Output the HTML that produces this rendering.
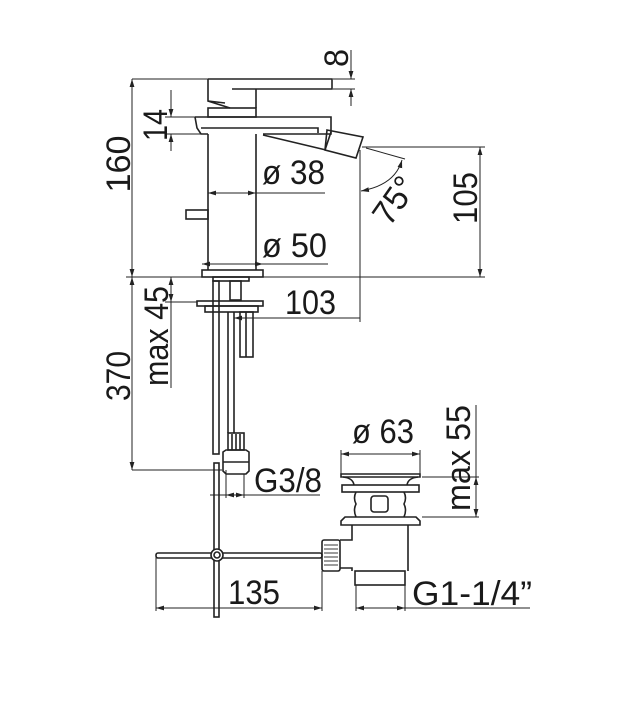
<!DOCTYPE html>
<html><head><meta charset="utf-8"><style>
html,body{margin:0;padding:0;background:#fff;}
svg{display:block;}
text{font-family:"Liberation Sans",sans-serif;fill:#1a1a1a;}
</style></head><body>
<svg width="622" height="707" viewBox="0 0 622 707" xmlns="http://www.w3.org/2000/svg">
<defs>
<marker id="a" viewBox="0 0 10 6" refX="10" refY="3" markerWidth="8" markerHeight="5" orient="auto-start-reverse"><path d="M0,0 L10,3 L0,6 z" fill="#222"/></marker>
</defs>
<g fill="none" stroke="#222" stroke-width="1.6">
<path d="M208,79 H332 V89 H232 M208,79 V101 L230,108"/>
<path d="M208,101 L225,103"/>
<line x1="256" y1="89" x2="256" y2="108"/>
<rect x="208" y="108" width="48" height="9"/>
<path d="M195,117 H331 V134 H263 M195,117 L197,128 L201,134 H208"/>
<path d="M201,128 H318 V133"/>
<path d="M263,135 L326,150"/>
<path d="M327,130 L363,137 L356,158 L325,150 Z"/>
<line x1="331" y1="132" x2="325" y2="150"/>
<line x1="208" y1="134" x2="208" y2="270"/>
<line x1="256" y1="134" x2="256" y2="270"/>
<rect x="186" y="210" width="22" height="9"/>
<rect x="202" y="270" width="61" height="7"/>
<rect x="213" y="277" width="36" height="4"/>
<rect x="213" y="281" width="6" height="173"/>
<rect x="230" y="281" width="11" height="19"/>
<line x1="228" y1="312" x2="228" y2="433"/>
<line x1="234" y1="312" x2="234" y2="433"/>
<rect x="197" y="301" width="66" height="5"/>
<rect x="205" y="306" width="53" height="6"/>
<rect x="240" y="312" width="13" height="45"/>
<line x1="246" y1="312" x2="246" y2="357"/>
<rect x="228" y="433" width="16" height="17"/>
<line x1="232" y1="434" x2="232" y2="450"/><line x1="236" y1="434" x2="236" y2="450"/><line x1="240" y1="434" x2="240" y2="450"/>
<path d="M223,452 L226,450 H246 L249,452 V471 L246,474 H226 L223,471 Z"/>
<line x1="223" y1="462" x2="249" y2="462"/>
<rect x="214" y="463" width="5" height="154"/>
<rect x="156" y="553" width="166" height="5" rx="2"/>
<circle cx="217" cy="555" r="6" fill="#fff"/>
<circle cx="217" cy="555" r="3"/>
<rect x="322" y="540" width="18" height="31" rx="2"/>
<g stroke-width="0.9"><line x1="324" y1="545" x2="338" y2="545"/><line x1="324" y1="549" x2="338" y2="549"/><line x1="324" y1="553" x2="338" y2="553"/><line x1="324" y1="557" x2="338" y2="557"/><line x1="324" y1="561" x2="338" y2="561"/><line x1="324" y1="565" x2="338" y2="565"/></g>
<path d="M341,474 H420 V477 H341 Z"/>
<path d="M343,477 Q353,478 354,485 M418,477 Q408,478 407,485"/>
<rect x="342" y="485" width="77" height="7"/>
<path d="M356,492 Q353,498 356,504 Q353,510 356,517 M404,492 Q407,498 404,504 Q407,510 404,517"/>
<rect x="371" y="496" width="17" height="16" rx="3"/>
<path d="M345,517 H416 L420,521 V525 H341 V521 Z"/>
<path d="M352,525 V540 H340 M340,568 H352 V571 M408,525 V571"/>
<rect x="355" y="571" width="50" height="14"/>
</g>
<g fill="none" stroke="#222" stroke-width="1">
<line x1="132" y1="79" x2="208" y2="79"/>
<line x1="126" y1="277" x2="485" y2="277"/>
<line x1="132" y1="79" x2="132" y2="277" marker-start="url(#a)" marker-end="url(#a)"/>
<line x1="132" y1="277" x2="132" y2="470" marker-start="url(#a)" marker-end="url(#a)"/>
<line x1="132" y1="470" x2="222" y2="470"/>
<line x1="165" y1="117" x2="195" y2="117"/><line x1="165" y1="134" x2="201" y2="134"/>
<line x1="171" y1="90" x2="171" y2="117" marker-end="url(#a)"/>
<line x1="171" y1="151" x2="171" y2="134" marker-end="url(#a)"/>
<line x1="333" y1="79" x2="355" y2="79"/><line x1="333" y1="89" x2="355" y2="89"/>
<line x1="351" y1="50" x2="351" y2="79" marker-end="url(#a)"/>
<line x1="351" y1="106" x2="351" y2="89" marker-end="url(#a)"/>
<line x1="208" y1="193" x2="256" y2="193" marker-start="url(#a)" marker-end="url(#a)"/>
<line x1="256" y1="193" x2="325" y2="193"/>
<line x1="202" y1="264" x2="263" y2="264" marker-start="url(#a)" marker-end="url(#a)"/>
<line x1="263" y1="264" x2="328" y2="264"/>
<line x1="362" y1="147" x2="485" y2="147"/>
<line x1="480" y1="147" x2="480" y2="277" marker-start="url(#a)" marker-end="url(#a)"/>
<line x1="360" y1="150" x2="360" y2="322"/>
<line x1="366" y1="148" x2="405" y2="159"/>
<path d="M402,160 Q395,185 361,191" marker-start="url(#a)" marker-end="url(#a)"/>
<line x1="165" y1="302" x2="197" y2="302"/>
<line x1="171" y1="277" x2="171" y2="302" marker-start="url(#a)" marker-end="url(#a)"/>
<line x1="171" y1="302" x2="171" y2="388"/>
<line x1="234" y1="318" x2="360" y2="318" marker-start="url(#a)"/>
<line x1="226" y1="470" x2="226" y2="498"/><line x1="244" y1="474" x2="244" y2="498"/>
<line x1="210" y1="495" x2="320" y2="495"/>
<line x1="226" y1="495" x2="244" y2="495" marker-start="url(#a)" marker-end="url(#a)"/>
<line x1="156" y1="557" x2="156" y2="611"/><line x1="322" y1="571" x2="322" y2="611"/>
<line x1="156" y1="608" x2="322" y2="608" marker-start="url(#a)" marker-end="url(#a)"/>
<line x1="341" y1="450" x2="341" y2="474"/><line x1="420" y1="450" x2="420" y2="474"/>
<line x1="341" y1="454" x2="420" y2="454" marker-start="url(#a)" marker-end="url(#a)"/>
<line x1="422" y1="477" x2="479" y2="477"/><line x1="422" y1="517" x2="479" y2="517"/>
<line x1="476" y1="405" x2="476" y2="477"/>
<line x1="476" y1="477" x2="476" y2="517" marker-start="url(#a)" marker-end="url(#a)"/>
<line x1="356" y1="585" x2="356" y2="611"/><line x1="405" y1="585" x2="405" y2="611"/>
<line x1="356" y1="608" x2="405" y2="608" marker-start="url(#a)" marker-end="url(#a)"/>
<line x1="405" y1="608" x2="530" y2="608"/>
</g>
<g font-size="34">
<text transform="translate(130,164) rotate(-90)" text-anchor="middle" textLength="57" lengthAdjust="spacingAndGlyphs">160</text>
<text transform="translate(167,125) rotate(-90)" text-anchor="middle" textLength="32" lengthAdjust="spacingAndGlyphs">14</text>
<text transform="translate(348,58) rotate(-90)" text-anchor="middle" textLength="18" lengthAdjust="spacingAndGlyphs">8</text>
<text x="262" y="184" textLength="63" lengthAdjust="spacingAndGlyphs">ø 38</text>
<text x="262" y="257" textLength="65" lengthAdjust="spacingAndGlyphs">ø 50</text>
<text transform="translate(477,198) rotate(-90)" text-anchor="middle" textLength="52" lengthAdjust="spacingAndGlyphs">105</text>
<text transform="translate(404,207) rotate(-55)" text-anchor="middle" textLength="50" lengthAdjust="spacingAndGlyphs">75°</text>
<text x="285" y="314" textLength="51" lengthAdjust="spacingAndGlyphs">103</text>
<text transform="translate(168,336) rotate(-90)" text-anchor="middle" textLength="100" lengthAdjust="spacingAndGlyphs">max 45</text>
<text transform="translate(130,376) rotate(-90)" text-anchor="middle" textLength="50" lengthAdjust="spacingAndGlyphs">370</text>
<text x="254" y="492" textLength="68" lengthAdjust="spacingAndGlyphs">G3/8</text>
<text x="228" y="604" textLength="52" lengthAdjust="spacingAndGlyphs">135</text>
<text x="352" y="443" textLength="62" lengthAdjust="spacingAndGlyphs">ø 63</text>
<text transform="translate(470,458) rotate(-90)" text-anchor="middle" textLength="106" lengthAdjust="spacingAndGlyphs">max 55</text>
<text x="412" y="605" textLength="120" lengthAdjust="spacingAndGlyphs">G1-1/4”</text>
</g>
</svg>
</body></html>
